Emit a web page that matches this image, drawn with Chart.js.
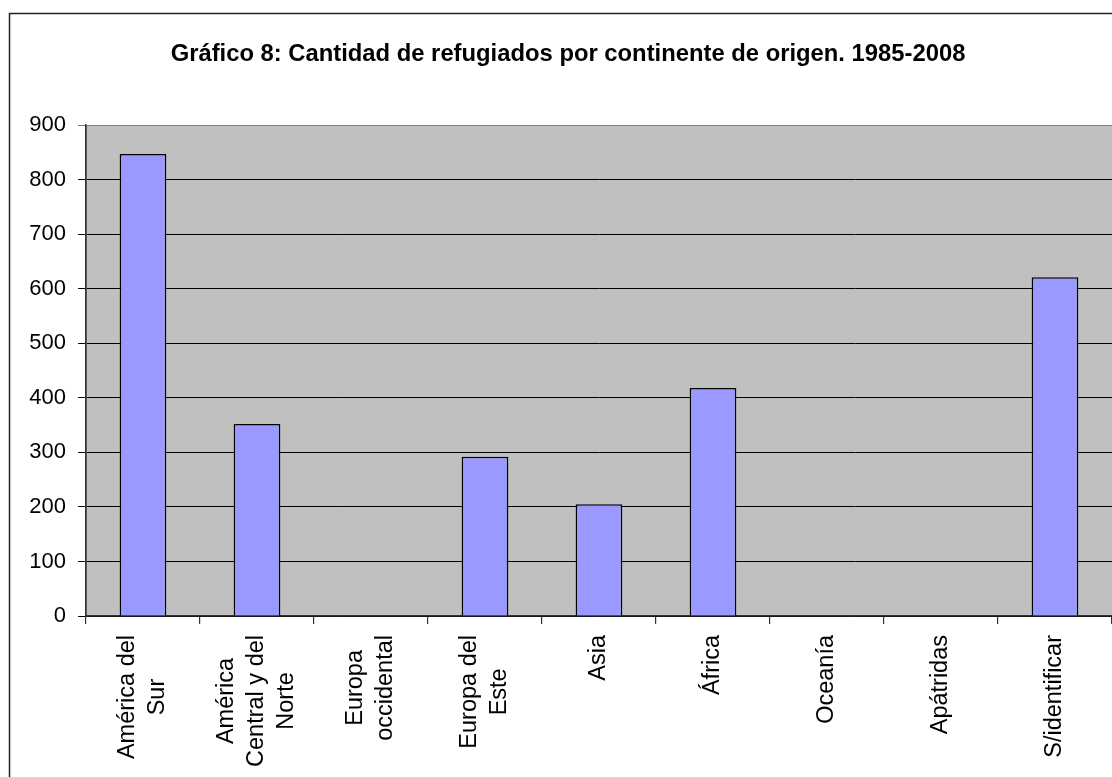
<!DOCTYPE html>
<html>
<head>
<meta charset="utf-8">
<script src="https://cdn.jsdelivr.net/npm/chart.js@4.4.0/dist/chart.umd.min.js"></script>
<style>
  html,body{margin:0;padding:0;background:#fff;}
  #chart{display:block;}
</style>
</head>
<body>
<canvas id="chart" width="1112" height="777"></canvas>
<script>
/* data */
const TITLE = 'Gráfico 8: Cantidad de refugiados por continente de origen. 1985-2008';
const categories = [
  ['América del','Sur'],
  ['América','Central y del','Norte'],
  ['Europa','occidental'],
  ['Europa del','Este'],
  ['Asia'],
  ['África'],
  ['Oceanía'],
  ['Apátridas'],
  ['S/identificar']
];
const refugiados = [847, 352, 0, 292, 205, 418, 0, 0, 621];
const yTicks = [0,100,200,300,400,500,600,700,800,900];

const FONT = "'Liberation Sans', Arial, sans-serif";

/* gray plot background, outer frame, title, rotated centred x labels */
const excelLook = {
  id:'excelLook',
  beforeDraw(chart){
    const {ctx, chartArea:a} = chart;
    ctx.save();
    ctx.fillStyle = '#C0C0C0';
    ctx.fillRect(a.left, a.top, a.right-a.left, a.bottom-a.top);
    ctx.strokeStyle = '#808080';
    ctx.lineWidth = 1;
    ctx.strokeRect(a.left+0.5, a.top+0.5, a.right-a.left, a.bottom-a.top);
    ctx.restore();
  },
  afterDraw(chart){
    const {ctx} = chart;
    ctx.save();
    // outer chart frame
    ctx.strokeStyle = '#222';
    ctx.lineWidth = 1.5;
    ctx.beginPath();
    ctx.moveTo(9.5, 800); ctx.lineTo(9.5, 13.5); ctx.lineTo(1200, 13.5);
    ctx.stroke();
    // title
    ctx.fillStyle = '#000';
    ctx.font = 'bold 23.8px ' + FONT;
    ctx.textAlign = 'center';
    ctx.textBaseline = 'alphabetic';
    ctx.fillText(TITLE, 568, 61);
    // x labels
    const xs = chart.scales.x;
    ctx.font = '23.5px ' + FONT;
    categories.forEach((lines, i) => {
      const cx = xs.getPixelForTick(i);
      const w = Math.max(...lines.map(l => ctx.measureText(l).width));
      const yc = xs.top + 19 + w/2;
      lines.forEach((l, j) => {
        ctx.save();
        ctx.translate(cx + (j - (lines.length-1)/2)*30, yc);
        ctx.rotate(-Math.PI/2);
        ctx.textAlign = 'center';
        ctx.textBaseline = 'middle';
        ctx.fillText(l, 0, 0);
        ctx.restore();
      });
    });
    ctx.restore();
  }
};

new Chart(document.getElementById('chart'), {
  type:'bar',
  data:{
    labels: categories,
    datasets:[{
      data: refugiados,
      backgroundColor:'#9999FF',
      borderColor:'#000',
      borderWidth:1.6,
      categoryPercentage:1,
      barPercentage:0.41
    }]
  },
  options:{
    responsive:false,
    animation:false,
    devicePixelRatio:1,
    layout:{ padding:{ top:125, left:0, right:0, bottom:0 } },
    plugins:{ legend:{display:false}, tooltip:{enabled:false}, title:{display:false} },
    scales:{
      x:{
        offset:true,
        grid:{ offset:true, drawOnChartArea:false, drawTicks:true, tickLength:8, color:'#333', lineWidth:1.2 },
        border:{ color:'#333', width:1.5 },
        ticks:{ display:false },
        afterFit(s){ s.height = 161; }
      },
      y:{
        min:0, max:900,
        afterBuildTicks(s){ s.ticks = yTicks.map(v => ({value:v})); },
        grid:{ tickLength:8, color: c => c.tick && c.tick.value === 900 ? '#808080' : '#000', lineWidth:1 },
        border:{ color:'#333', width:1.5 },
        ticks:{ color:'#000', padding:12, font:{ family:FONT, size:22 } },
        afterFit(s){ s.width = 86; }
      }
    }
  },
  plugins:[excelLook]
});
</script>
</body>
</html>
